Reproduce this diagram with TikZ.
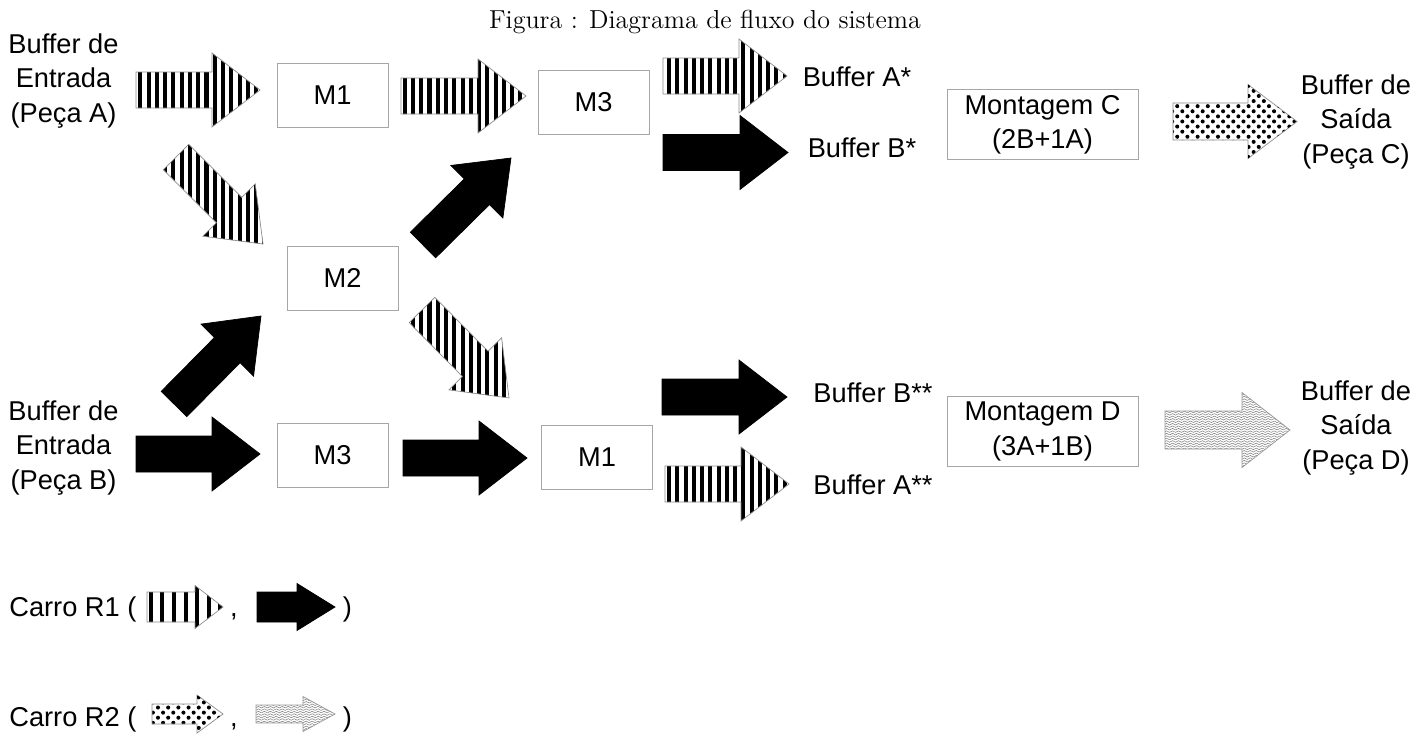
\documentclass[tikz,border=0pt]{standalone}
\usepackage{fontspec}
\setsansfont{Liberation Sans}
\usetikzlibrary{calc,patterns,patterns.meta}

% fine horizontal waves for the second carrier
\pgfdeclarepatternformonly{wavelines}{\pgfqpoint{-0.2pt}{-0.2pt}}{\pgfqpoint{3.6pt}{1.6pt}}{\pgfqpoint{3.4pt}{1.4pt}}{%
  \pgfsetlinewidth{0.3pt}
  \pgfpathmoveto{\pgfqpoint{0pt}{0.7pt}}
  \pgfpathcurveto{\pgfqpoint{0.57pt}{1.3pt}}{\pgfqpoint{1.13pt}{1.3pt}}{\pgfqpoint{1.7pt}{0.7pt}}
  \pgfpathcurveto{\pgfqpoint{2.27pt}{0.1pt}}{\pgfqpoint{2.83pt}{0.1pt}}{\pgfqpoint{3.4pt}{0.7pt}}
  \pgfusepath{stroke}}

% block arrow: style, tail, tip, half body, half head, head length
\newcommand{\fatarrow}[6]{%
  \coordinate (neck) at ($(#3)!#6!(#2)$);
  \path[#1] ($(#2)!#4!90:(#3)$) -- ($(neck)!#4!90:(#3)$) -- ($(neck)!#5!90:(#3)$) -- (#3)
    -- ($(neck)!#5!-90:(#3)$) -- ($(neck)!#4!-90:(#3)$) -- ($(#2)!#4!-90:(#3)$) -- cycle;
}

\tikzset{
  every node/.style={font=\sffamily\fontsize{15.5}{19.5}\selectfont},
  machine/.style={draw=black!35, line width=0.5pt, minimum width=2.22cm, minimum height=1.28cm},
  assembly/.style={machine, minimum width=3.82cm, minimum height=1.3cm, align=center},
  store/.style={align=center},
  flowA/.style={draw=black!45, line width=0.4pt, pattern={Lines[angle=90,distance=#1,line width=2.3pt]}},
  flowA/.default=4.7pt,
  flowB/.style={fill=black, draw=black, line width=0.4pt},
  flowC/.style={draw=black!45, line width=0.4pt, pattern={Dots[distance=5.8pt,radius=1.15pt]},
    postaction={pattern={Dots[distance=5.8pt,radius=1.15pt,xshift=2.9pt,yshift=2.9pt]}}},
  flowD/.style={draw=black!40, line width=0.4pt, pattern=wavelines, pattern color=black!50}
}

\begin{document}
\begin{tikzpicture}
  \useasboundingbox (0,0) rectangle (28.4,-14.66);
  \node[font=\rmfamily\fontsize{14.8}{17}\selectfont] (title) at (14.1,-0.45) {Figura : Diagrama de fluxo do sistema};

  % buffers de entrada e saida
  \node[store] (inA) at (1.27,-1.62) {Buffer de\\Entrada\\(Peça A)};
  \node[store] (inB) at (1.27,-8.96) {Buffer de\\Entrada\\(Peça B)};
  \node[store] (outC) at (27.12,-2.44) {Buffer de\\Saída\\(Peça C)};
  \node[store] (outD) at (27.12,-8.56) {Buffer de\\Saída\\(Peça D)};

  % maquinas
  \node[machine] (m1a) at (6.65,-1.9) {M1};
  \node[machine] (m3a) at (11.87,-2.05) {M3};
  \node[machine] (m2) at (6.85,-5.56) {M2};
  \node[machine] (m3b) at (6.65,-9.1) {M3};
  \node[machine] (m1b) at (11.94,-9.14) {M1};
  \node[assembly] (mc) at (20.85,-2.49) {Montagem C\\(2B+1A)};
  \node[assembly] (md) at (20.85,-8.63) {Montagem D\\(3A+1B)};

  % buffers intermediarios
  \node (bA1) at (17.14,-1.54) {Buffer A*};
  \node (bB1) at (17.24,-2.96) {Buffer B*};
  \node (bB2) at (17.46,-7.86) {Buffer B**};
  \node (bA2) at (17.46,-9.7) {Buffer A**};

  % pontas das setas
  \coordinate (a1s) at (2.72,-1.8);  \coordinate (a1e) at (5.2,-1.8);
  \coordinate (a2s) at (8.02,-1.92); \coordinate (a2e) at (10.52,-1.92);
  \coordinate (a3s) at (3.52,-3.14); \coordinate (a3e) at (5.26,-4.88);
  \coordinate (a4s) at (8.44,-6.2);  \coordinate (a4e) at (10.18,-7.96);
  \coordinate (a5s) at (13.26,-1.52); \coordinate (a5e) at (15.74,-1.52);
  \coordinate (a6s) at (13.3,-9.68); \coordinate (a6e) at (15.78,-9.68);
  \coordinate (b1s) at (2.72,-9.08); \coordinate (b1e) at (5.2,-9.08);
  \coordinate (b2s) at (8.06,-9.16); \coordinate (b2e) at (10.54,-9.16);
  \coordinate (b3s) at (3.48,-8.08); \coordinate (b3e) at (5.22,-6.32);
  \coordinate (b4s) at (8.46,-4.9);  \coordinate (b4e) at (10.22,-3.16);
  \coordinate (b5s) at (13.26,-3.05); \coordinate (b5e) at (15.76,-3.05);
  \coordinate (b6s) at (13.24,-7.94); \coordinate (b6e) at (15.74,-7.94);
  \coordinate (cs) at (23.46,-2.43); \coordinate (ce) at (25.94,-2.43);
  \coordinate (ds) at (23.3,-8.6);   \coordinate (de) at (25.8,-8.6);

  % carro R1: peca A (listras) e peca B (preto)
  \fatarrow{flowA}{a1s}{a1e}{0.36cm}{0.74cm}{0.96cm}
  \fatarrow{flowA}{a2s}{a2e}{0.36cm}{0.74cm}{0.96cm}
  \fatarrow{flowA}{a3s}{a3e}{0.36cm}{0.74cm}{0.96cm}
  \fatarrow{flowA}{a4s}{a4e}{0.36cm}{0.74cm}{0.96cm}
  \fatarrow{flowA}{a5s}{a5e}{0.36cm}{0.74cm}{0.96cm}
  \fatarrow{flowA}{a6s}{a6e}{0.36cm}{0.74cm}{0.96cm}
  \fatarrow{flowB}{b1s}{b1e}{0.36cm}{0.74cm}{0.96cm}
  \fatarrow{flowB}{b2s}{b2e}{0.36cm}{0.74cm}{0.96cm}
  \fatarrow{flowB}{b3s}{b3e}{0.36cm}{0.74cm}{0.96cm}
  \fatarrow{flowB}{b4s}{b4e}{0.36cm}{0.74cm}{0.96cm}
  \fatarrow{flowB}{b5s}{b5e}{0.36cm}{0.74cm}{0.96cm}
  \fatarrow{flowB}{b6s}{b6e}{0.36cm}{0.74cm}{0.96cm}
  % carro R2: pecas C e D
  \fatarrow{flowC}{cs}{ce}{0.37cm}{0.74cm}{0.98cm}
  \fatarrow{flowD}{ds}{de}{0.38cm}{0.75cm}{0.96cm}

  % legenda
  \node[anchor=base west, inner sep=0pt] (r1) at (0.18,-12.32) {Carro R1 (};
  \node[anchor=base, inner sep=0pt] (r1sep) at (4.68,-12.32) {,};
  \node[anchor=base, inner sep=0pt] (r1end) at (6.95,-12.32) {)};
  \coordinate (l1s) at (2.94,-12.14); \coordinate (l1e) at (4.46,-12.14);
  \coordinate (l2s) at (5.14,-12.14); \coordinate (l2e) at (6.7,-12.14);
  \fatarrow{flowA=6.6pt}{l1s}{l1e}{0.3cm}{0.43cm}{0.56cm}
  \fatarrow{flowB}{l2s}{l2e}{0.3cm}{0.47cm}{0.76cm}

  \node[anchor=base west, inner sep=0pt] (r2) at (0.18,-14.52) {Carro R2 (};
  \node[anchor=base, inner sep=0pt] (r2sep) at (4.68,-14.52) {,};
  \node[anchor=base, inner sep=0pt] (r2end) at (6.95,-14.52) {)};
  \coordinate (l3s) at (3.04,-14.28); \coordinate (l3e) at (4.46,-14.28);
  \coordinate (l4s) at (5.12,-14.28); \coordinate (l4e) at (6.7,-14.28);
  \fatarrow{flowC}{l3s}{l3e}{0.2cm}{0.38cm}{0.52cm}
  \fatarrow{flowD}{l4s}{l4e}{0.18cm}{0.35cm}{0.64cm}
\end{tikzpicture}
\end{document}
